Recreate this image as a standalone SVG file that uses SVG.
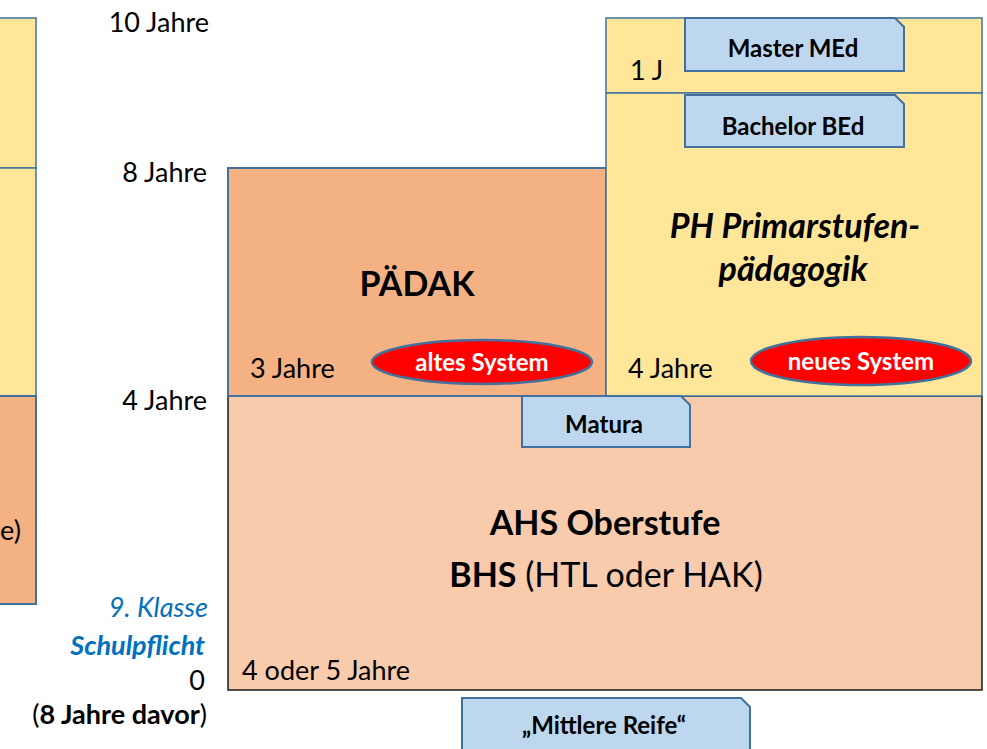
<svg xmlns="http://www.w3.org/2000/svg" width="987" height="749" viewBox="0 0 987 749">
<style>
text { font-family: Lato, "Open Sans", "Liberation Sans", sans-serif; fill: #000; }
.axis { font-size: 27px; text-anchor: end; }
.lbl { font-size: 27px; }
.tab { fill: #BDD7EE; stroke: #41719C; stroke-width: 2; }
.tabt { font-size: 24px; font-weight: bold; text-anchor: middle; }
.big { font-size: 34px; font-weight: bold; text-anchor: middle; }
.ell { fill: #FF0000; stroke: #41719C; stroke-width: 2.5; }
.ellt { font-size: 24px; font-weight: bold; fill: #fff; text-anchor: middle; }
.yel { fill: #FFE699; stroke: #41719C; stroke-width: 1.5; }
.ora { fill: #F4B183; stroke: #41719C; stroke-width: 2; }
.blue { fill: #0070C0; }
.b { font-weight: bold; }
.n { font-weight: normal; }
</style>
<rect width="987" height="749" fill="#fff"/>

<g id="left-strip">
  <rect class="yel" x="-10" y="18" width="46" height="150"/>
  <rect class="yel" x="-10" y="168" width="46" height="228"/>
  <rect class="ora" x="-10" y="396" width="46" height="208"/>
  <text class="lbl" x="0" y="540">e)</text>
</g>

<g id="axis">
  <text class="axis" x="209" y="32">10 Jahre</text>
  <text class="axis" x="207" y="182">8 Jahre</text>
  <text class="axis" x="207" y="410">4 Jahre</text>
  <text class="axis blue" x="208" y="617" font-style="italic">9. Klasse</text>
  <text class="axis blue b" x="205" y="655" font-style="italic">Schulpflicht</text>
  <text class="axis" x="207" y="724">(<tspan class="b">8 Jahre davor</tspan>)</text>
  <text class="axis" x="205" y="690">0</text>
</g>

<g id="ahs">
  <rect x="228" y="396" width="754" height="294" fill="#F8CBAD" stroke="#1a1a1a" stroke-width="1.5"/>
  <text class="big" x="605" y="535">AHS Oberstufe</text>
  <text class="big n" x="606" y="587"><tspan class="b">BHS</tspan> (HTL oder HAK)</text>
  <text class="lbl" x="242" y="680">4 oder 5 Jahre</text>
</g>

<g id="paedak">
  <rect class="ora" x="228" y="168" width="378" height="228"/>
  <text class="big" x="417" y="296">PÄDAK</text>
  <text class="lbl" x="250" y="378">3 Jahre</text>
</g>

<g id="ph-master">
  <rect class="yel" x="606" y="18" width="376" height="75"/>
  <text class="lbl" x="630" y="80">1 J</text>
</g>

<g id="ph">
  <rect class="yel" x="606" y="93" width="376" height="303"/>
  <text class="big" x="795" y="238" font-style="italic">PH Primarstufen-</text>
  <text class="big" x="793" y="281" font-style="italic">pädagogik</text>
  <text class="lbl" x="628" y="378">4 Jahre</text>
</g>

<g id="master">
  <path class="tab" d="M685,18 H895 L904,27 V71 H685 Z"/>
  <text class="tabt" x="793" y="57">Master MEd</text>
</g>

<g id="bachelor">
  <path class="tab" d="M685,95 H895 L904,104 V147 H685 Z"/>
  <text class="tabt" x="793" y="135">Bachelor BEd</text>
</g>

<g id="altes-system">
  <ellipse class="ell" cx="482" cy="362" rx="110" ry="22"/>
  <text class="ellt" x="482" y="371">altes System</text>
</g>

<g id="neues-system">
  <ellipse class="ell" cx="861" cy="361" rx="110" ry="24"/>
  <text class="ellt" x="861" y="370">neues System</text>
</g>

<g id="matura">
  <path class="tab" d="M522,396 H681 L690,405 V447 H522 Z"/>
  <text class="tabt" x="604" y="433">Matura</text>
</g>

<g id="mittlere-reife">
  <path class="tab" d="M462,698 H741 L750,707 V760 H462 Z"/>
  <text class="tabt" x="604" y="734">„Mittlere Reife“</text>
</g>

<g id="connectors"></g>
</svg>
